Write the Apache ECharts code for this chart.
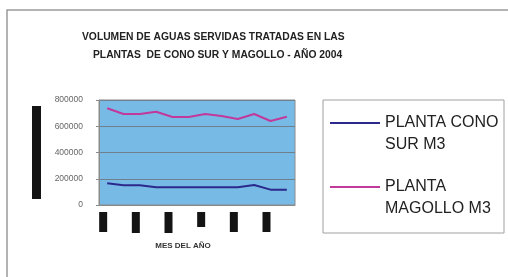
<!DOCTYPE html>
<html lang="es">
<head>
    <meta charset="utf-8">
    <title>Aguas servidas 2004</title>
    <script src="https://cdn.jsdelivr.net/npm/echarts@6/dist/echarts.min.js"></script>
    <style>
        html, body { margin: 0; padding: 0; background: #fff; }
    </style>
</head>
<body>
    <div id="main" style="width: 508px;height:277px;"></div>
    <script type="text/javascript">
        // datos (m3 por mes)
        var meses = ['ENE', 'FEB', 'MAR', 'ABR', 'MAY', 'JUN', 'JUL', 'AGO', 'SEP', 'OCT', 'NOV', 'DIC'];
        var conoSur = [165000, 150000, 150000, 135000, 135000, 135000, 135000, 135000, 135000, 152000, 117000, 117000];
        var magollo = [737000, 693000, 693000, 711000, 670000, 670000, 693000, 678000, 655000, 693000, 640000, 673000];
        var yTicks = [0, 200000, 400000, 600000, 800000];

        // alto de los bloques negros que tapan las etiquetas del eje x
        var alturasEtiqueta = [20, 21, 21, 15, 20, 20];

        var fuente = '"Liberation Sans", Arial, sans-serif';

        var richX = {};
        alturasEtiqueta.forEach(function (h, i) {
            richX['b' + i] = { width: 8, height: h, backgroundColor: '#141414' };
        });

        var myChart = echarts.init(document.getElementById('main'));

        var option = {
            animation: false,
            textStyle: { fontFamily: fuente },
            title: [{
                text: 'VOLUMEN DE AGUAS SERVIDAS TRATADAS EN LAS',
                left: 82, top: 32, padding: 0,
                textStyle: { fontSize: 10.3, fontWeight: 'bold', color: '#222', fontFamily: fuente }
            }, {
                text: 'PLANTAS  DE CONO SUR Y MAGOLLO - AÑO 2004',
                left: 93, top: 50, padding: 0,
                textStyle: { fontSize: 10.3, fontWeight: 'bold', color: '#222', fontFamily: fuente }
            }],
            legend: {
                orient: 'vertical',
                left: 330, top: 90,
                padding: 0,
                icon: 'rect',
                itemWidth: 50, itemHeight: 2, itemGap: -2,
                // linea vacia delante para que el icono quede a la altura de la primera linea
                formatter: function (n) { return ' \n' + n; },
                textStyle: { fontSize: 16, lineHeight: 22, color: '#222', fontFamily: fuente },
                data: ['PLANTA CONO\nSUR M3', 'PLANTA\nMAGOLLO M3']
            },
            graphic: [{
                type: 'rect',
                shape: { x: 7, y: 10, width: 520, height: 300 },
                style: { fill: 'none', stroke: '#9a9a9a', lineWidth: 1.5 },
                silent: true
            }, {
                type: 'rect',
                shape: { x: 323, y: 100, width: 181, height: 133 },
                style: { fill: '#fff', stroke: '#a0a0a0', lineWidth: 1 },
                silent: true
            }],
            grid: {
                left: 99, top: 100, width: 196, height: 105,
                show: true,
                backgroundColor: '#78bae6',
                borderColor: '#8a8a8a',
                borderWidth: 1
            },
            xAxis: {
                type: 'category',
                data: meses,
                boundaryGap: true,
                name: 'MES DEL AÑO',
                nameLocation: 'middle',
                nameGap: 37,
                nameTextStyle: { fontSize: 8, fontWeight: 'bold', color: '#333', padding: [0, 28, 0, 0] },
                axisLine: { lineStyle: { color: '#8a8a8a' } },
                axisTick: { interval: 0, length: 3, lineStyle: { color: '#8a8a8a' } },
                axisLabel: {
                    interval: 1,
                    margin: 7,
                    align: 'right',
                    formatter: function (v, i) { return '{b' + Math.floor(i / 2) + '|}'; },
                    rich: richX
                }
            },
            yAxis: {
                type: 'value',
                min: yTicks[0],
                max: yTicks[yTicks.length - 1],
                interval: yTicks[1] - yTicks[0],
                name: '{b|}',
                nameLocation: 'middle',
                nameRotate: 90,
                nameGap: 58,
                nameTextStyle: { rich: { b: { width: 93, height: 9, backgroundColor: '#141414' } } },
                axisLine: { show: true, lineStyle: { color: '#8a8a8a' } },
                axisTick: { show: true, length: 3, lineStyle: { color: '#8a8a8a' } },
                axisLabel: {
                    fontSize: 8.5, color: '#666', margin: 16,
                    formatter: function (v) { return String(v); }
                },
                splitLine: { lineStyle: { color: '#6f7f8c', width: 1 } }
            },
            series: [{
                name: 'PLANTA CONO\nSUR M3',
                type: 'line',
                symbol: 'none',
                data: conoSur,
                itemStyle: { color: '#2b2a8c' },
                lineStyle: { color: '#2b2a8c', width: 2 }
            }, {
                name: 'PLANTA\nMAGOLLO M3',
                type: 'line',
                symbol: 'none',
                data: magollo,
                itemStyle: { color: '#c0399b' },
                lineStyle: { color: '#c0399b', width: 2 }
            }]
        };

        myChart.setOption(option);
    </script>
</body>
</html>
